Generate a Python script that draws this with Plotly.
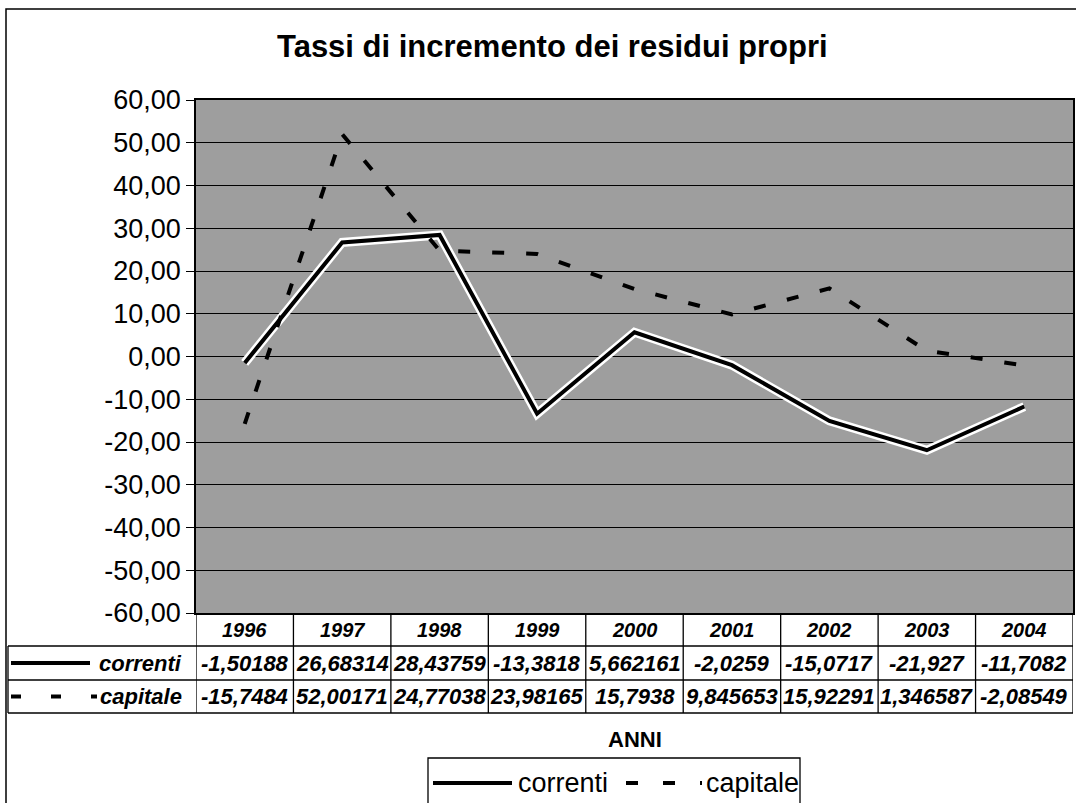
import plotly.graph_objects as go

W, H = 1076, 803

# dati
anni = ["1996", "1997", "1998", "1999", "2000", "2001", "2002", "2003", "2004"]
correnti_txt = ["-1,50188", "26,68314", "28,43759", "-13,3818", "5,662161",
                "-2,0259", "-15,0717", "-21,927", "-11,7082"]
capitale_txt = ["-15,7484", "52,00171", "24,77038", "23,98165", "15,7938",
                "9,845653", "15,92291", "1,346587", "-2,08549"]
y_vals = [60, 50, 40, 30, 20, 10, 0, -10, -20, -30, -40, -50, -60]
y_text = ["60,00", "50,00", "40,00", "30,00", "20,00", "10,00", "0,00",
          "-10,00", "-20,00", "-30,00", "-40,00", "-50,00", "-60,00"]

correnti = [float(s.replace(",", ".")) for s in correnti_txt]
capitale = [float(s.replace(",", ".")) for s in capitale_txt]


def px(x):
    return x / W


def py(y):
    return 1 - y / H


FONT = "Liberation Sans, Arial, sans-serif"

# area del grafico (pixel)
PL, PR, PT, PB = 196, 1073, 100, 613
ROW1, ROW2, ROW3 = 646, 680, 713
DASH = "12px,22px"

fig = go.Figure()

# alone bianco sotto la linea continua
fig.add_trace(go.Scatter(x=anni, y=correnti, mode="lines", showlegend=False,
                         hoverinfo="skip",
                         line=dict(color="white", width=9)))
fig.add_trace(go.Scatter(x=anni, y=correnti, mode="lines", name="correnti",
                         showlegend=False,
                         line=dict(color="black", width=4)))
fig.add_trace(go.Scatter(x=anni, y=capitale, mode="lines", name="capitale",
                         showlegend=False,
                         line=dict(color="black", width=4, dash=DASH)))

fig.update_layout(
    width=W, height=H, autosize=False,
    margin=dict(l=0, r=0, t=0, b=0, autoexpand=False),
    paper_bgcolor="white",
    plot_bgcolor="#9e9e9e",
    font=dict(family=FONT, color="black"),
    xaxis=dict(domain=[px(PL), px(PR)], type="category", range=[-0.5, 8.5],
               automargin=False,
               showticklabels=False, showgrid=False, zeroline=False,
               showline=True, mirror=True, linecolor="black", linewidth=1.5),
    yaxis=dict(domain=[py(PB), py(PT)], range=[-60, 60], automargin=False,
               tickvals=y_vals, ticktext=y_text,
               tickfont=dict(size=27, family=FONT),
               ticks="outside", ticklen=8, tickcolor="black",
               showgrid=True, gridcolor="black", gridwidth=1,
               zeroline=False, showline=True, mirror=True,
               linecolor="black", linewidth=1.5),
    showlegend=False,
)


def label(text, x, y, size, xref="paper", xanchor="center", **kw):
    fig.add_annotation(text=text, x=x, y=y, xref=xref, yref="paper",
                       xanchor=xanchor, yanchor="middle", showarrow=False,
                       font=dict(size=size, family=FONT), **kw)


# titolo
label("<b>Tassi di incremento dei residui propri</b>", px(552), py(46), 31)
# titolo asse x
label("<b>ANNI</b>", px((PL + PR) / 2), py(739), 22)

shapes = []
# cornice esterna
shapes.append(dict(type="rect", xref="paper", yref="paper",
                   x0=px(6), x1=1.02, y0=-0.05, y1=py(9),
                   line=dict(color="black", width=1.5)))

# tabella dati
line_kw = dict(color="black", width=1.3)
for i in range(len(anni) + 1):
    shapes.append(dict(type="line", xref="x", yref="paper",
                       x0=i - 0.5, x1=i - 0.5, y0=py(PB), y1=py(ROW3),
                       line=line_kw))
for yy in (ROW1, ROW2, ROW3):
    shapes.append(dict(type="line", xref="paper", yref="paper",
                       x0=px(8), x1=px(PR), y0=py(yy), y1=py(yy),
                       line=line_kw))
shapes.append(dict(type="line", xref="paper", yref="paper",
                   x0=px(8), x1=px(8), y0=py(ROW1), y1=py(ROW3), line=line_kw))

# chiavi della legenda nella tabella
r0 = (PB + ROW1) / 2
r1 = (ROW1 + ROW2) / 2
r2 = (ROW2 + ROW3) / 2
shapes.append(dict(type="line", xref="paper", yref="paper",
                   x0=px(11), x1=px(90), y0=py(r1), y1=py(r1),
                   line=dict(color="black", width=4)))
shapes.append(dict(type="line", xref="paper", yref="paper",
                   x0=px(11), x1=px(97), y0=py(r2), y1=py(r2),
                   line=dict(color="black", width=4, dash="10px,30px")))

# legenda in basso
LG_Y = 783
shapes.append(dict(type="rect", xref="paper", yref="paper",
                   x0=px(428), x1=px(800), y0=py(808), y1=py(758),
                   line=dict(color="black", width=1.3)))
shapes.append(dict(type="line", xref="paper", yref="paper",
                   x0=px(433), x1=px(512), y0=py(LG_Y), y1=py(LG_Y),
                   line=dict(color="black", width=4)))
shapes.append(dict(type="line", xref="paper", yref="paper",
                   x0=px(626), x1=px(702), y0=py(LG_Y), y1=py(LG_Y),
                   line=dict(color="black", width=4, dash="12px,25px")))
fig.update_layout(shapes=shapes)

label("correnti", px(516), py(LG_Y), 27, xanchor="left")
label("capitale", px(704), py(LG_Y), 27, xanchor="left")

for i, a in enumerate(anni):
    label("<b><i>%s</i></b>" % a, i, py(r0), 20, xref="x")
    label("<b><i>%s</i></b>" % correnti_txt[i], i, py(r1), 22, xref="x")
    label("<b><i>%s</i></b>" % capitale_txt[i], i, py(r2), 22, xref="x")

for name, yy in (("correnti", r1), ("capitale", r2)):
    label("<b><i>%s</i></b>" % name, px(184), py(yy), 22, xanchor="right")

fig.write_html("out.html", config={"displayModeBar": False},
               post_script="document.body.style.margin='0';")
